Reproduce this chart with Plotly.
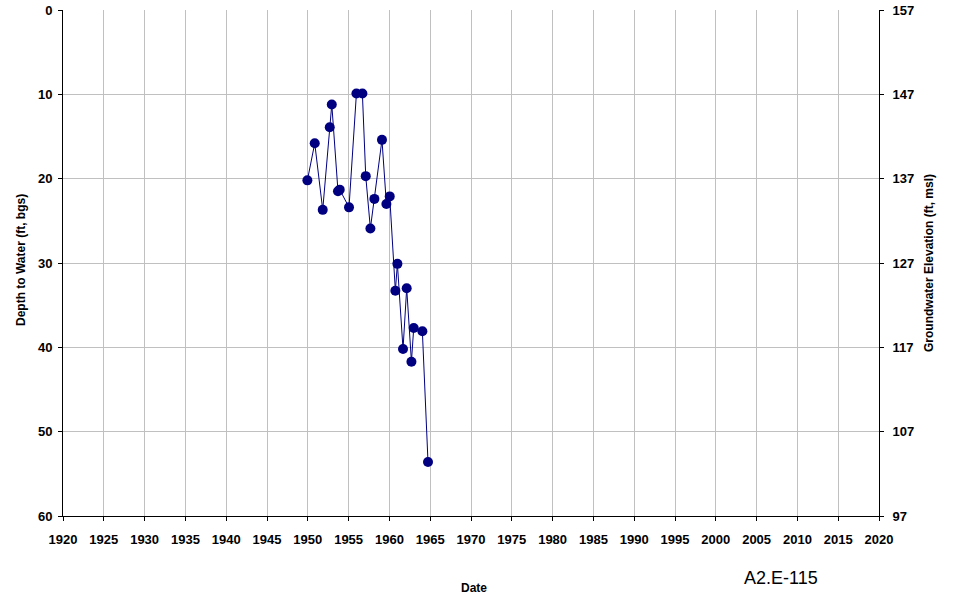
import plotly.graph_objects as go

years = [1949.95, 1950.85, 1951.83, 1952.69, 1952.94, 1953.70, 1953.91, 1955.05,
         1955.96, 1956.69, 1957.10, 1957.67, 1958.16, 1959.09, 1959.63, 1960.04,
         1960.73, 1960.98, 1961.67, 1962.12, 1962.70, 1962.98, 1964.04, 1964.73]
depth = [20.2, 15.8, 23.7, 13.9, 11.2, 21.5, 21.3, 23.4,
         9.9, 9.9, 19.7, 25.9, 22.4, 15.4, 23.0, 22.1,
         33.3, 30.1, 40.2, 33.0, 41.7, 37.7, 38.1, 53.6]
ground_elev = 157
x_ticks = list(range(1920, 2021, 5))
left_ticks = [0, 10, 20, 30, 40, 50, 60]
right_ticks = [157, 147, 137, 127, 117, 107, 97]

elev = [ground_elev - d for d in depth]
navy = "#000080"
FAM = "Liberation Sans, Arial, sans-serif"
font = dict(family=FAM, size=12, color="black")

W, H = 956, 600
l, r, t, b = 63, 77, 10, 84
pw, ph = W - l - r, H - t - b

fig = go.Figure()
fig.add_trace(go.Scatter(x=years, y=depth, mode="lines+markers",
                         line=dict(color=navy, width=1),
                         marker=dict(color=navy, size=10),
                         showlegend=False))
fig.add_trace(go.Scatter(x=years, y=elev, yaxis="y2", mode="lines",
                         line=dict(width=0), opacity=0, hoverinfo="skip",
                         showlegend=False))

axis_common = dict(showline=True, linecolor="black", linewidth=1,
                   ticks="outside", ticklen=4, tickcolor="black",
                   tickfont=dict(family=FAM, size=13, color="black", weight="bold"),
                   zeroline=False)


def ann(text, px, py, size=12, angle=0, bold=True):
    return dict(text=f"<b>{text}</b>" if bold else text,
                x=(px - l) / pw, y=(H - b - py) / ph, xref="paper", yref="paper",
                xanchor="center", yanchor="middle", showarrow=False, textangle=angle,
                font=dict(family=FAM, size=size, color="black"))


fig.update_layout(
    width=W, height=H,
    margin=dict(l=l, r=r, t=t, b=b, autoexpand=False),
    paper_bgcolor="white", plot_bgcolor="white",
    font=font,
    xaxis=dict(range=[1920, 2020], tickvals=x_ticks, showgrid=True,
               gridcolor="#c0c0c0", gridwidth=1, ticklabelstandoff=7, **axis_common),
    yaxis=dict(range=[60, 0], tickvals=left_ticks, showgrid=True,
               gridcolor="#c0c0c0", gridwidth=1, ticklabelstandoff=3, **axis_common),
    yaxis2=dict(range=[97, 157], tickvals=right_ticks, overlaying="y", side="right",
                showgrid=False, ticklabelstandoff=6, **axis_common),
    annotations=[
        ann("Date", 474, 588),
        ann("A2.E-115", 781, 578, size=18, bold=False),
        ann("Depth to Water (ft, bgs)", 21, 260, angle=-90),
        ann("Groundwater Elevation (ft, msl)", 929, 263, angle=-90),
    ],
)

fig.write_html("out.html", config={"displayModeBar": False},
               post_script="document.body.style.margin='0';document.body.style.overflow='hidden';")
